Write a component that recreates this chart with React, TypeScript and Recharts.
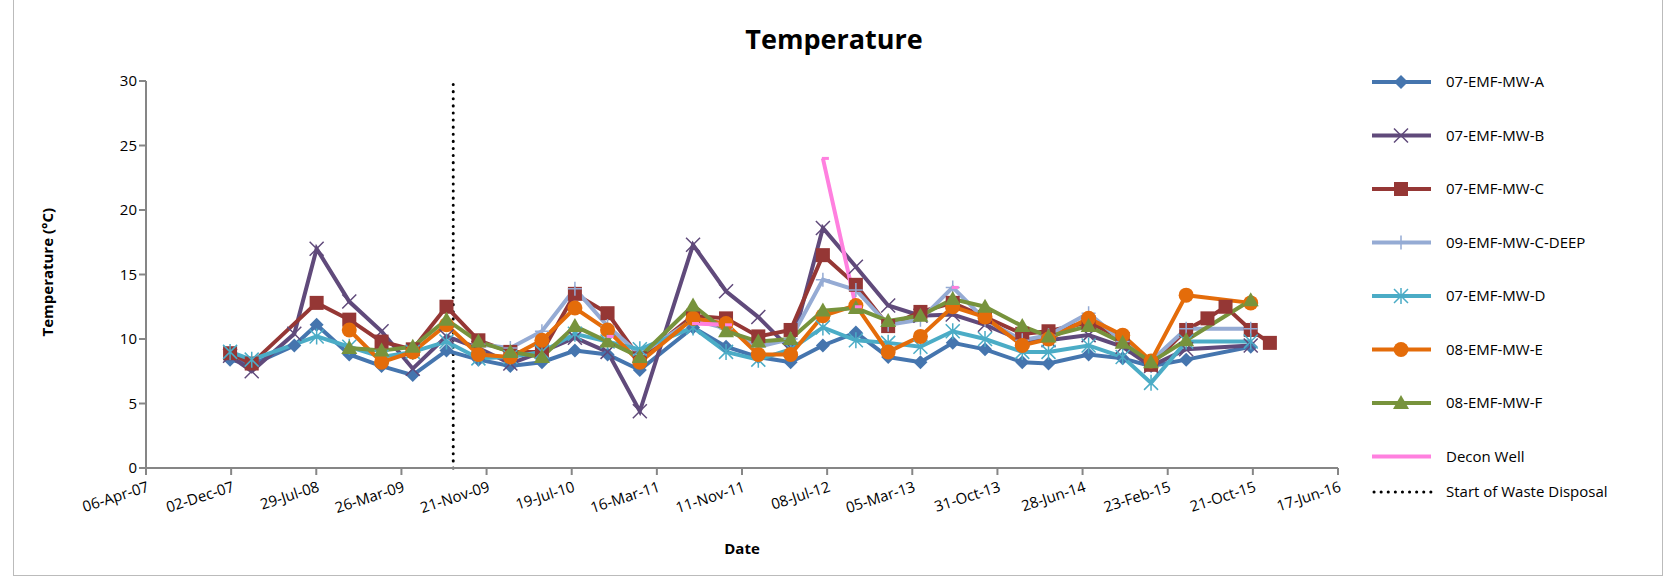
import React from 'react'
import { LineChart, Line, XAxis, YAxis, ReferenceLine } from 'recharts'

const sampleDates = [
  '2007-11-29', '2008-01-29', '2008-05-28', '2008-07-30', '2008-10-30', '2009-01-29',
  '2009-04-27', '2009-07-31', '2009-10-29', '2010-01-27', '2010-04-26', '2010-07-28',
  '2010-10-28', '2011-01-27', '2011-06-26', '2011-09-27', '2011-12-27', '2012-03-27',
  '2012-06-26', '2012-09-27', '2012-12-27', '2013-03-28', '2013-06-27', '2013-09-26',
  '2014-01-09', '2014-03-24', '2014-07-15', '2014-10-19', '2015-01-07', '2015-04-16',
  '2015-06-15', '2015-08-05', '2015-10-15', '2015-12-08',
]

type V = number | null
const n = null

const mwA: V[] = [8.4, 8.0, 9.5, 11.1, 8.8, 7.9, 7.2, 9.1, 8.4, 7.9, 8.2, 9.1, 8.8, 7.6, 10.9, 9.4, 8.6, 8.2, 9.5, 10.5, 8.6, 8.2, 9.7, 9.2, 8.2, 8.1, 8.8, 8.5, 7.9, 8.4, n, n, 9.4, n]
const mwB: V[] = [8.7, 7.5, 10.4, 17.0, 12.9, 10.6, 7.7, 10.2, 9.3, 8.1, 9.0, 10.1, 9.0, 4.4, 17.3, 13.7, 11.7, 9.2, 18.6, 15.6, 12.6, 11.8, 11.9, 11.1, 9.9, 9.9, 10.3, 9.4, 7.9, 9.2, n, n, 9.5, n]
const mwC: V[] = [8.9, 8.1, n, 12.8, 11.5, 9.8, 9.2, 12.5, 9.9, 9.0, 9.0, 13.5, 12.0, 8.5, 11.8, 11.6, 10.2, 10.7, 16.5, 14.2, 11.0, 12.1, 12.8, 11.7, 10.4, 10.6, 11.3, 10.0, 8.0, 10.7, 11.6, 12.5, 10.7, 9.7]
const mwCDeep: V[] = [n, n, n, n, n, n, n, n, 9.6, 9.3, 10.6, 13.9, 11.0, 8.8, 11.5, 10.8, 9.4, 10.0, 14.6, 13.8, 11.1, 11.5, 14.0, 11.5, 9.9, 10.3, 12.0, 9.8, 8.3, 10.8, n, n, 10.8, n]
const mwD: V[] = [9.0, 8.4, n, 10.2, 9.4, 8.6, 9.0, 9.8, 8.5, 8.6, 9.0, 10.4, 9.8, 9.2, 10.9, 9.0, 8.4, 9.2, 10.9, 9.9, 9.7, 9.4, 10.6, 10.0, 9.0, 9.0, 9.5, 8.6, 6.6, 9.8, n, n, 9.8, n]
const mwE: V[] = [n, n, n, n, 10.7, 8.2, 9.0, 11.1, 8.8, 8.6, 9.9, 12.4, 10.7, 8.2, 11.6, 11.2, 8.8, 8.8, 11.8, 12.6, 9.0, 10.2, 12.5, 11.7, 9.5, 10.0, 11.6, 10.3, 8.3, 13.4, n, n, 12.8, n]
const mwF: V[] = [n, n, n, n, 9.3, 9.1, 9.4, 11.5, 9.8, 9.0, 8.6, 11.0, 9.8, 8.6, 12.6, 10.6, 9.8, 10.0, 12.2, 12.4, 11.4, 11.8, 13.1, 12.5, 11.0, 10.2, 11.0, 9.7, 8.2, 9.9, n, n, 13.0, n]
const decon: V[] = [n, n, n, n, n, n, n, n, n, n, n, n, 10.2, n, 11.2, 11.1, n, n, 24.0, 12.5, n, n, 14.0, n, n, n, n, n, n, n, n, n, n, n]

const tickDates = [
  '2007-04-06', '2007-12-02', '2008-07-29', '2009-03-26', '2009-11-21', '2010-07-19',
  '2011-03-16', '2011-11-11', '2012-07-08', '2013-03-05', '2013-10-31', '2014-06-28',
  '2015-02-23', '2015-10-21', '2016-06-17',
]
const tickLabels = [
  '06-Apr-07', '02-Dec-07', '29-Jul-08', '26-Mar-09', '21-Nov-09', '19-Jul-10',
  '16-Mar-11', '11-Nov-11', '08-Jul-12', '05-Mar-13', '31-Oct-13', '28-Jun-14',
  '23-Feb-15', '21-Oct-15', '17-Jun-16',
]
const wasteDisposalStart = '2009-08-19'

const day = (s: string) => Date.parse(s + 'T00:00:00Z') / 86400000
const ticks = tickDates.map(day)

const data = sampleDates.map((d, i) => ({
  t: day(d),
  a: mwA[i], b: mwB[i], c: mwC[i], cd: mwCDeep[i], d: mwD[i], e: mwE[i], f: mwF[i], dw: decon[i],
}))

type Shape = 'diamond' | 'x' | 'square' | 'plus' | 'star' | 'circle' | 'triangle' | 'dash' | 'none'

function Marker({ shape, cx, cy, color }: { shape: Shape; cx: number; cy: number; color: string }) {
  switch (shape) {
    case 'diamond':
      return <polygon points={`${cx},${cy - 7} ${cx + 7},${cy} ${cx},${cy + 7} ${cx - 7},${cy}`} fill={color} />
    case 'square':
      return <rect x={cx - 7} y={cy - 7} width={14} height={14} fill={color} />
    case 'circle':
      return <circle cx={cx} cy={cy} r={7.5} fill={color} />
    case 'triangle':
      return <polygon points={`${cx},${cy - 8} ${cx + 8},${cy + 6} ${cx - 8},${cy + 6}`} fill={color} />
    case 'x':
      return <path d={`M${cx - 7},${cy - 7}L${cx + 7},${cy + 7}M${cx - 7},${cy + 7}L${cx + 7},${cy - 7}`} stroke={color} strokeWidth={1.5} />
    case 'plus':
      return <path d={`M${cx - 7},${cy}L${cx + 7},${cy}M${cx},${cy - 7}L${cx},${cy + 7}`} stroke={color} strokeWidth={1.5} />
    case 'star':
      return <path d={`M${cx - 7},${cy - 7}L${cx + 7},${cy + 7}M${cx - 7},${cy + 7}L${cx + 7},${cy - 7}M${cx},${cy - 8}L${cx},${cy + 8}`} stroke={color} strokeWidth={1.5} />
    case 'dash':
      return <path d={`M${cx - 1},${cy}L${cx + 6},${cy}`} stroke={color} strokeWidth={3} />
    default:
      return null
  }
}

const series: { key: string; name: string; color: string; shape: Shape; connect: boolean }[] = [
  { key: 'a', name: '07-EMF-MW-A', color: '#4575AE', shape: 'diamond', connect: true },
  { key: 'b', name: '07-EMF-MW-B', color: '#604A7B', shape: 'x', connect: true },
  { key: 'c', name: '07-EMF-MW-C', color: '#953735', shape: 'square', connect: true },
  { key: 'cd', name: '09-EMF-MW-C-DEEP', color: '#95ABD4', shape: 'plus', connect: true },
  { key: 'd', name: '07-EMF-MW-D', color: '#4BACC6', shape: 'star', connect: true },
  { key: 'e', name: '08-EMF-MW-E', color: '#E46C0A', shape: 'circle', connect: true },
  { key: 'f', name: '08-EMF-MW-F', color: '#77933C', shape: 'triangle', connect: true },
  { key: 'dw', name: 'Decon Well', color: '#FF80DF', shape: 'dash', connect: false },
]

function AngledTick(props: any) {
  const { x, y, payload } = props
  const i = ticks.indexOf(payload.value)
  return (
    <text x={x + 4} y={y + 14} textAnchor="end" transform={`rotate(-18 ${x + 4} ${y + 14})`}
      fontSize={15} fill="#000" fontFamily="'Open Sans', sans-serif">
      {tickLabels[i]}
    </text>
  )
}

export default function App() {
  const font = "'Open Sans', sans-serif"
  return (
    <div style={{ position: 'absolute', left: 0, top: 0, width: 1668, height: 576, background: '#fff', fontFamily: font }}>
      <div style={{ position: 'absolute', left: 13, top: 0, width: 1648, height: 575, border: '1px solid #bbb', borderTop: 'none' }} />
      <div style={{ position: 'absolute', left: 0, width: 1668, top: 20, textAlign: 'center', fontWeight: 700, fontSize: 27, paddingRight: 100 }}>
        Temperature
      </div>
      <LineChart width={1668} height={576} data={data} margin={{ top: 81, right: 330, bottom: 0, left: 80 }}
        style={{ position: 'absolute', left: 0, top: 0 }}>
        <XAxis dataKey="t" type="number" domain={[ticks[0], ticks[ticks.length - 1]]} ticks={ticks}
          tick={<AngledTick />} height={108} stroke="#868686" strokeWidth={2} tickSize={7} interval={0}
          label={{ value: 'Date', position: 'insideBottom', offset: 22, fontSize: 15, fontWeight: 700, fill: '#000', fontFamily: font }} />
        <YAxis domain={[0, 30]} ticks={[0, 5, 10, 15, 20, 25, 30]} width={66} stroke="#868686" strokeWidth={2}
          tick={{ fontSize: 15, fill: '#000', fontFamily: font }} tickSize={7}
          label={{ value: 'Temperature (°C)', angle: -90, position: 'insideLeft', offset: -32, dy: 62, fontSize: 15, fontWeight: 700, fill: '#000', fontFamily: font }} />
        <ReferenceLine x={day(wasteDisposalStart)} stroke="#000" strokeWidth={3} strokeDasharray="0.1 7" strokeLinecap="round" />
        {series.map((s) => (
          <Line key={s.key} dataKey={s.key} name={s.name} stroke={s.color} strokeWidth={4}
            connectNulls={s.connect} isAnimationActive={false} activeDot={false}
            dot={(p: any) => (p.value == null ? <g key={p.index} /> :
              <g key={p.index}><Marker shape={s.shape} cx={p.cx} cy={p.cy} color={s.color} /></g>)} />
        ))}
      </LineChart>
      <svg style={{ position: 'absolute', left: 1360, top: 60 }} width={300} height={460}>
        {series.map((s, i) => {
          const y = 22 + i * 53.5
          return (
            <g key={s.key}>
              <line x1={12} x2={71} y1={y} y2={y} stroke={s.color} strokeWidth={4} />
              {s.shape !== 'dash' && <Marker shape={s.shape} cx={41} cy={y} color={s.color} />}
              <text x={86} y={y + 5} fontSize={15} fontFamily={font}>{s.name}</text>
            </g>
          )
        })}
        <line x1={14} x2={71} y1={22 + 8 * 53.5 - 18} y2={22 + 8 * 53.5 - 18} stroke="#000" strokeWidth={3} strokeDasharray="0.1 7" strokeLinecap="round" />
        <text x={86} y={22 + 8 * 53.5 - 13} fontSize={15} fontFamily={font}>Start of Waste Disposal</text>
      </svg>
    </div>
  )
}
